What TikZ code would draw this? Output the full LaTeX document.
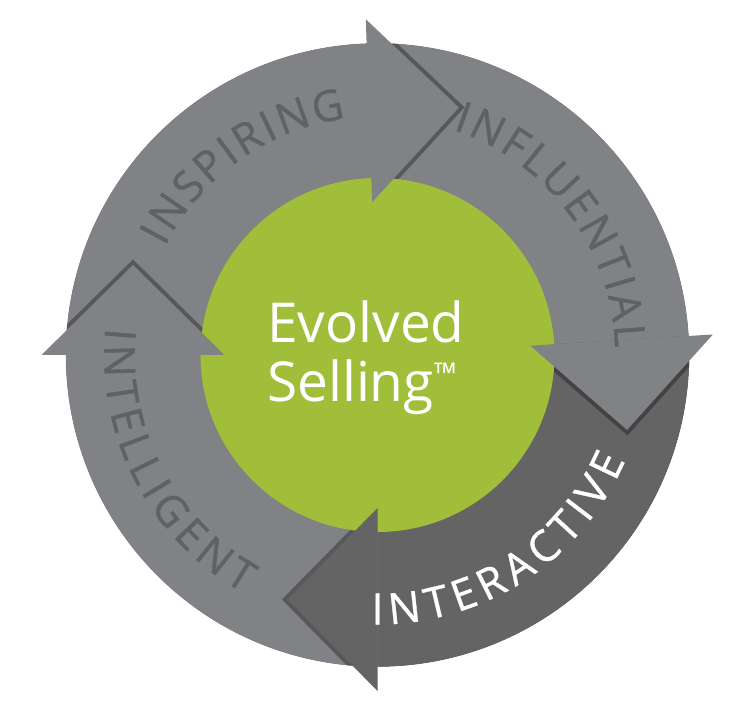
\documentclass[tikz,border=0pt]{standalone}
\usepackage{fontspec}
\setmainfont{Open Sans}
\newfontfamily\arcfam[FakeBold=0.8]{Open Sans}
\usetikzlibrary{calc}
\definecolor{ringgray}{RGB}{128,130,133}
\definecolor{ringdark}{RGB}{100,100,100}
\definecolor{evgreen}{RGB}{161,190,58}
\definecolor{lettergray}{RGB}{96,97,99}
\newlength\ArcW
\newlength\ArcPos
\newcommand\arcsize{\arcfam\fontsize{43}{45}\selectfont}
% letter widths are measured once, outside the picture
\newcommand\MeasureLetters{%
  \foreach \ch in {I,N,S,P,R,G,F,L,U,E,T,A,C,V}{%
    \settowidth\ArcW{\arcsize\ch}%
    \expandafter\xdef\csname aw@\ch\endcsname{\the\ArcW}}}
% #1 name prefix, #2 mid angle, #3 radius, #4 dir (1 = clockwise reading, tops out; -1 = ccw, tops in), #5 tracking, #6 colour, #7 letters
\newcommand\ArcWord[7]{%
  \global\ArcPos=0pt
  \foreach \ch in {#7}{\ArcW=\csname aw@\ch\endcsname\relax\global\advance\ArcPos by \ArcW\relax\global\advance\ArcPos by #5pt\relax}%
  \global\advance\ArcPos by -#5pt\relax
  \pgfmathsetmacro\ArcStart{#2 + (#4)*(\ArcPos/#3)*57.29578/2}%
  \global\ArcPos=0pt
  \foreach \ch [count=\i] in {#7}{%
    \ArcW=\csname aw@\ch\endcsname\relax
    \pgfmathsetmacro\ArcAng{\ArcStart - (#4)*((\ArcPos+0.5*\ArcW)/#3)*57.29578}%
    \pgfmathsetmacro\ArcRot{\ArcAng - (#4)*90}%
    \node[letter, text=#6, rotate=\ArcRot] (#1-\i) at ($(C)+(\ArcAng:#3)$) {\ch};
    \global\advance\ArcPos by \ArcW\relax
    \global\advance\ArcPos by #5pt\relax
  }%
}
% sector from angle #1 clockwise to angle #2, colour #3
\newcommand\Sector[3]{%
  \fill[#3] ($(C)+(#1:312)$) arc[start angle=#1, end angle=#2-0.6, radius=312]
     -- ($(C)+(#2-0.6:170)$) arc[start angle=#2-0.6, end angle=#1, radius=170] -- cycle;}
% head coordinates: name #1, back angle #2
\newcommand\HeadPts[2]{%
  \coordinate (#1-in) at ($(C)+(#2:153)$);
  \coordinate (#1-out) at ($(C)+(#2:336)$);
  \coordinate (#1-tip) at ($(C)+(#2:244.5)+(#2-90:90)$);}
\begin{document}
\MeasureLetters
\begin{tikzpicture}[x=1pt,y=1pt,
  letter/.style={font=\arcsize, inner sep=0pt, anchor=center},
  evtext/.style={font=\fontsize{55}{60}\selectfont, text=white, inner sep=0pt, anchor=base west},
  shadowline/.style={line width=8pt, black, opacity=0.32, line join=miter},
  ]
\useasboundingbox (0,0) rectangle (750,715);
\coordinate (C) at (377.5,360);
% ring sectors
\Sector{180}{92}{ringgray}
\Sector{92}{3.5}{ringgray}
\Sector{3.5}{-90}{ringdark}
\Sector{-90}{-180}{ringgray}
% head points
\HeadPts{hinsp}{92}
\HeadPts{hinfl}{3.5}
\HeadPts{hinte}{-90}
\HeadPts{hintl}{180}
% shadows of the heads on the next segment
\draw[shadowline] (hinsp-out) -- (hinsp-tip) -- (hinsp-in);
\draw[shadowline] (hinfl-out) -- (hinfl-tip) -- (hinfl-in);
\draw[shadowline] (hinte-out) -- (hinte-tip) -- (hinte-in);
\draw[shadowline] (hintl-out) -- (hintl-tip) -- (hintl-in);
% keep the shadows inside the ring: white outside, green disc inside
\fill[white, even odd rule] (-5,-5) rectangle (755,720) (C) circle[radius=312];
\fill[evgreen] (C) circle[radius=177];
% heads
\fill[ringgray] (hinsp-out) -- (hinsp-tip) -- (hinsp-in) -- cycle;
\fill[ringgray] (hinfl-out) -- (hinfl-tip) -- (hinfl-in) -- cycle;
\fill[ringdark] (hinte-out) -- (hinte-tip) -- (hinte-in) -- cycle;
\fill[ringgray] (hintl-out) -- (hintl-tip) -- (hintl-in) -- cycle;
% ring words
\ArcWord{insp}{125.4}{254}{1}{4.5}{lettergray}{I,N,S,P,I,R,I,N,G}
\ArcWord{infl}{36.7}{253}{1}{4.5}{lettergray}{I,N,F,L,U,E,N,T,I,A,L}
\ArcWord{inte}{302.9}{254}{-1}{4.5}{white}{I,N,T,E,R,A,C,T,I,V,E}
\ArcWord{intl}{207.5}{258}{-1}{4}{lettergray}{I,N,T,E,L,L,I,G,E,N,T}
% centre text
\node[evtext] (ev1) at (267,372) {Evolved};
\node[evtext] (ev2) at (267,313) {Selling\raisebox{17pt}{\fontsize{30}{30}\selectfont ™}};
\end{tikzpicture}
\end{document}
